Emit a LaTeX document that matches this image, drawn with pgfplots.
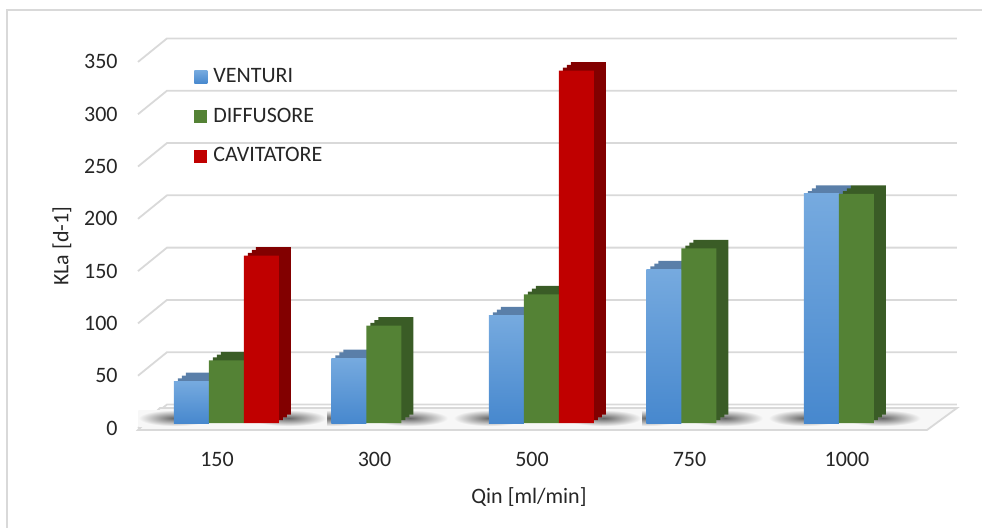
\documentclass[border=0pt]{standalone}
\usepackage{pgfplots}
\pgfplotsset{compat=1.18}
\usepackage{fontspec}
\setmainfont{Carlito}
\definecolor{bluetop}{HTML}{76AADF}
\definecolor{bluebot}{HTML}{4788CE}
\definecolor{blueback}{HTML}{5A7FA9}
\definecolor{greenf}{HTML}{548235}
\definecolor{greenb}{HTML}{3A5C26}
\definecolor{redf}{HTML}{C00000}
\definecolor{redb}{HTML}{820000}
\definecolor{gridc}{HTML}{D9D9D9}
\definecolor{txt}{HTML}{262626}
\begin{document}
\begin{tikzpicture}[font=\fontsize{11}{13}\selectfont]
\useasboundingbox (-69pt,-52pt) rectangle (422pt,211.5pt);
\draw[gridc, line width=0.8pt] (-65.5pt,-60pt) -- (-65.5pt,206.5pt) -- (430pt,206.5pt);
\begin{axis}[
  scale only axis, width=409.5pt, height=193.5pt,
  xmin=-0.5619, xmax=4.6381, ymin=0, ymax=370,
  clip=false,
  axis line style={draw=none}, tick style={draw=none}, major tick length=0pt,
  xtick={0,1,2,3,4}, xticklabels={150,300,500,750,1000},
  ytick={0,50,...,350},
  /pgf/number format/assume math mode=true,
  every tick label/.append style={text=txt, font=\fontsize{11}{13}\selectfont},
  xticklabel style={anchor=north, inner sep=0pt, yshift=-14.5pt, xshift=-4.75pt},
  yticklabel style={anchor=east, inner sep=0pt, xshift=-10pt, yshift=-2.5pt},
  xlabel={Qin [ml/min]}, ylabel={KLa [d-1]},
  xlabel style={at={(rel axis cs:0.4774,0)}, anchor=north, inner sep=0pt, yshift=-32pt, text=txt, font=\fontsize{11}{13}\selectfont},
  ylabel style={at={(rel axis cs:-0.0928,0.457)}, anchor=center, inner sep=0pt, text=txt, font=\fontsize{11}{13}\selectfont},
  legend style={at={(rel axis cs:0.0684,0.917)}, anchor=north west, draw=none, fill=none,
    inner sep=0pt, row sep=11.15pt, column sep=3pt, text=txt, font=\fontsize{11}{13}\selectfont,
    nodes={inner sep=0pt}},
  legend cell align=left,
  legend image code/.code={\path[#1, draw=none] (0pt,-3.25pt) rectangle (6.5pt,3.25pt);},
]
% back wall gridlines
\pgfplotsinvokeforeach{0,50,100,150,200,250,300,350}{
  \draw[gridc, line width=0.9pt] ([yshift=-2.5pt]axis cs:-0.5619,#1) -- ([xshift=14.5pt,yshift=9.25pt]axis cs:-0.5619,#1) -- ([yshift=9.25pt]axis cs:4.6381,#1);
}
% floor
\draw[gridc, line width=0.9pt, fill=white!97!black] ([yshift=-3.5pt]axis cs:-0.5619,0) -- ([yshift=-3.5pt]axis cs:4.4476,0) -- ([yshift=7.5pt]axis cs:4.6381,0) -- ([yshift=7.5pt]axis cs:-0.4222,0) -- cycle;
% soft shadows on the floor
\pgfplotsinvokeforeach{0,1,2,3,4}{
  \shade[inner color=black!60, outer color=white!97!black] ([xshift=-44pt,yshift=-1.5pt]axis cs:#1,0) rectangle ([xshift=-8pt,yshift=6.5pt]axis cs:#1,0);
}
\pgfplotsinvokeforeach{0,2}{
  \shade[inner color=black!60, outer color=white!97!black] ([xshift=12pt,yshift=-1.5pt]axis cs:#1,0) rectangle ([xshift=50pt,yshift=6.5pt]axis cs:#1,0);
}
\pgfplotsinvokeforeach{1,3,4}{
  \shade[inner color=black!60, outer color=white!97!black] ([xshift=-6pt,yshift=-1.5pt]axis cs:#1,0) rectangle ([xshift=32pt,yshift=6.5pt]axis cs:#1,0);
}
% depth (top and side faces)
\addplot[ybar, bar width=17.5pt, bar shift=-15.5pt, yshift=1.417pt, fill=blueback, draw=none, forget plot]
  coordinates {(0,40) (1,62) (2,103) (3,147) (4,219)};
\addplot[ybar, bar width=17.5pt, bar shift=-13.5pt, yshift=2.833pt, fill=blueback, draw=none, forget plot]
  coordinates {(0,40) (1,62) (2,103) (3,147) (4,219)};
\addplot[ybar, bar width=17.5pt, bar shift=-11.5pt, yshift=4.25pt, fill=blueback, draw=none, forget plot]
  coordinates {(0,40) (1,62) (2,103) (3,147) (4,219)};
\addplot[ybar, bar width=17.5pt, bar shift=2pt, yshift=1.417pt, fill=greenb, draw=none, forget plot]
  coordinates {(0,60) (1,93) (2,123) (3,167) (4,219)};
\addplot[ybar, bar width=17.5pt, bar shift=4pt, yshift=2.833pt, fill=greenb, draw=none, forget plot]
  coordinates {(0,60) (1,93) (2,123) (3,167) (4,219)};
\addplot[ybar, bar width=17.5pt, bar shift=6pt, yshift=4.25pt, fill=greenb, draw=none, forget plot]
  coordinates {(0,60) (1,93) (2,123) (3,167) (4,219)};
\addplot[ybar, bar width=17.5pt, bar shift=19.5pt, yshift=1.417pt, fill=redb, draw=none, forget plot]
  coordinates {(0,160) (2,337)};
\addplot[ybar, bar width=17.5pt, bar shift=21.5pt, yshift=2.833pt, fill=redb, draw=none, forget plot]
  coordinates {(0,160) (2,337)};
\addplot[ybar, bar width=17.5pt, bar shift=23.5pt, yshift=4.25pt, fill=redb, draw=none, forget plot]
  coordinates {(0,160) (2,337)};
% front faces
\addplot[ybar, bar width=17.5pt, bar shift=-17.5pt, top color=bluetop, bottom color=bluebot, draw=none]
  coordinates {(0,40)};
\addlegendentry{VENTURI}
\addplot[ybar, bar width=17.5pt, bar shift=-17.5pt, top color=bluetop, bottom color=bluebot, draw=none, forget plot]
  coordinates {(1,62)};
\addplot[ybar, bar width=17.5pt, bar shift=-17.5pt, top color=bluetop, bottom color=bluebot, draw=none, forget plot]
  coordinates {(2,103)};
\addplot[ybar, bar width=17.5pt, bar shift=-17.5pt, top color=bluetop, bottom color=bluebot, draw=none, forget plot]
  coordinates {(3,147)};
\addplot[ybar, bar width=17.5pt, bar shift=-17.5pt, top color=bluetop, bottom color=bluebot, draw=none, forget plot]
  coordinates {(4,219)};
\addplot[ybar, bar width=17.5pt, bar shift=0pt, fill=greenf, draw=none]
  coordinates {(0,60) (1,93) (2,123) (3,167) (4,219)};
\addlegendentry{DIFFUSORE}
\addplot[ybar, bar width=17.5pt, bar shift=17.5pt, fill=redf, draw=none]
  coordinates {(0,160) (2,337)};
\addlegendentry{CAVITATORE}
\end{axis}
\end{tikzpicture}
\end{document}
